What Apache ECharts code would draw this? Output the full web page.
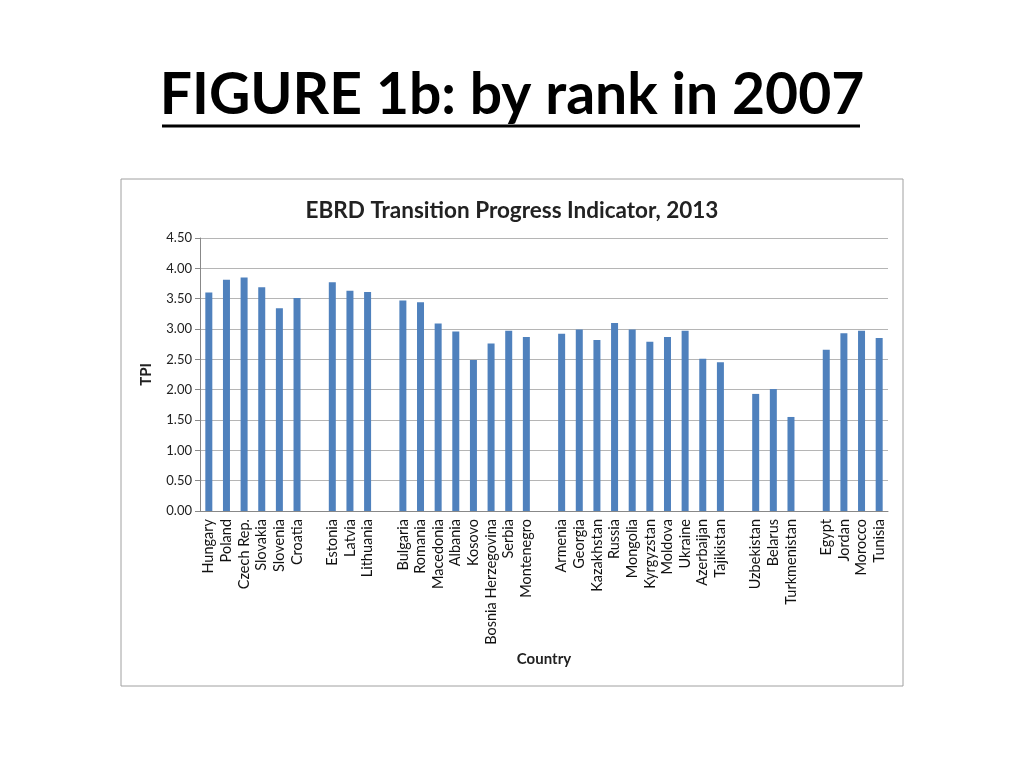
<!DOCTYPE html>
<html>
<head>
<meta charset="utf-8">
<style>html,body{margin:0;padding:0;background:#fff;}#c{width:1024px;height:768px;}</style>
<script src="https://cdn.jsdelivr.net/npm/echarts@6/dist/echarts.min.js"></script>
</head>
<body>
<div id="c"></div>
<script>
const categories = ['Hungary','Poland','Czech Rep.','Slovakia','Slovenia','Croatia','',
  'Estonia','Latvia','Lithuania','',
  'Bulgaria','Romania','Macedonia','Albania','Kosovo','Bosnia Herzegovina','Serbia','Montenegro','',
  'Armenia','Georgia','Kazakhstan','Russia','Mongolia','Kyrgyzstan','Moldova','Ukraine','Azerbaijan','Tajikistan','',
  'Uzbekistan','Belarus','Turkmenistan','',
  'Egypt','Jordan','Morocco','Tunisia'];
const tpi = [3.60,3.81,3.85,3.69,3.34,3.51,null,
  3.77,3.63,3.61,null,
  3.47,3.44,3.09,2.96,2.49,2.76,2.97,2.87,null,
  2.92,2.99,2.82,3.10,2.99,2.79,2.87,2.97,2.51,2.45,null,
  1.93,2.01,1.55,null,
  2.66,2.93,2.97,2.85];
const yTicks = {min:0, max:4.5, interval:0.5};
const pageTitle = 'FIGURE 1b: by rank in 2007';
const chartTitle = 'EBRD Transition Progress Indicator, 2013';

const font = 'Lato, "Liberation Sans", sans-serif';
const chart = echarts.init(document.getElementById('c'));
chart.setOption({
  backgroundColor:'#fff',
  animation:false,
  title:{text:chartTitle,left:'center',top:194,textStyle:{fontFamily:font,fontSize:22.5,fontWeight:'bold',color:'#222'}},
  graphic:[
    {type:'rect',shape:{x:121,y:179,width:782,height:507},style:{fill:'none',stroke:'#a0a0a0',lineWidth:1},z:-1},
    {type:'text',left:'center',top:67,style:{text:pageTitle,font:'bold 57px '+font,fill:'#000'}},
    {type:'line',shape:{x1:162,y1:126,x2:860,y2:126},style:{stroke:'#000',lineWidth:3}}
  ],
  grid:{left:200,right:136,top:238,bottom:257},
  xAxis:{type:'category',data:categories,
    name:'Country',nameLocation:'middle',nameGap:141,
    nameTextStyle:{fontFamily:font,fontSize:15,fontWeight:'bold',color:'#222'},
    axisLine:{lineStyle:{color:'#888'}},
    axisTick:{interval:0,alignWithLabel:false,length:5,lineStyle:{color:'#888'}},
    axisLabel:{interval:0,rotate:90,fontFamily:font,fontSize:14.5,color:'#111',margin:8}
  },
  yAxis:{type:'value',min:yTicks.min,max:yTicks.max,interval:yTicks.interval,
    name:'TPI',nameLocation:'middle',nameGap:46,nameRotate:90,
    nameTextStyle:{fontFamily:font,fontSize:15,fontWeight:'bold',color:'#222'},
    axisLine:{show:true,lineStyle:{color:'#888'}},
    axisTick:{show:true,length:5,lineStyle:{color:'#888'}},
    axisLabel:{fontFamily:font,fontSize:13,color:'#222',formatter:v=>v.toFixed(2)},
    splitLine:{lineStyle:{color:'#b5b5b5'}}
  },
  series:[{type:'bar',data:tpi,barWidth:7,itemStyle:{color:'#4f81bd'}}]
});
</script>
</body>
</html>
